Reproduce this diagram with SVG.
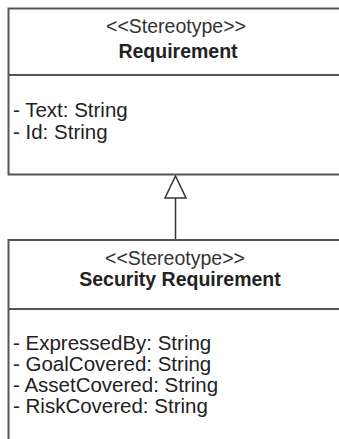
<svg xmlns="http://www.w3.org/2000/svg" width="339" height="439" viewBox="0 0 339 439">
<style>
.box{fill:#fff;stroke:#555;stroke-width:2}
.div{stroke:#555;stroke-width:2}
.st{font-family:"Liberation Sans",Arial,sans-serif;font-size:19.5px;fill:#333;text-anchor:middle}
.nm{font-family:"Liberation Sans",Arial,sans-serif;font-size:19.5px;font-weight:bold;fill:#222;text-anchor:middle}
.at{font-family:"Liberation Sans",Arial,sans-serif;font-size:20.5px;fill:#222}
.edge{stroke:#333;stroke-width:1.5;fill:none}
.head{fill:#fff;stroke:#333;stroke-width:1.5}
</style>
<rect width="339" height="439" fill="#fff"/>
<g id="connectors">
<line class="edge" x1="175.5" y1="198" x2="175.5" y2="240"/>
<polygon class="head" points="175.5,176 165,198 186,198"/>
</g>
<g id="requirement">
<rect class="box" x="8.5" y="8.5" width="345" height="166"/>
<line class="div" x1="8.5" y1="75" x2="345" y2="75"/>
<text class="st" x="176" y="33">&lt;&lt;Stereotype&gt;&gt;</text>
<text class="nm" x="178" y="58">Requirement</text>
<text class="at" x="13" y="117">- Text: String</text>
<text class="at" x="13" y="139">- Id: String</text>
</g>
<g id="security-requirement">
<rect class="box" x="8.5" y="240" width="345" height="215"/>
<line class="div" x1="8.5" y1="309" x2="345" y2="309"/>
<text class="st" x="175" y="265">&lt;&lt;Stereotype&gt;&gt;</text>
<text class="nm" x="180" y="286">Security Requirement</text>
<text class="at" x="13" y="350">- ExpressedBy: String</text>
<text class="at" x="13" y="371">- GoalCovered: String</text>
<text class="at" x="13" y="392">- AssetCovered: String</text>
<text class="at" x="13" y="413">- RiskCovered: String</text>
</g>
</svg>
